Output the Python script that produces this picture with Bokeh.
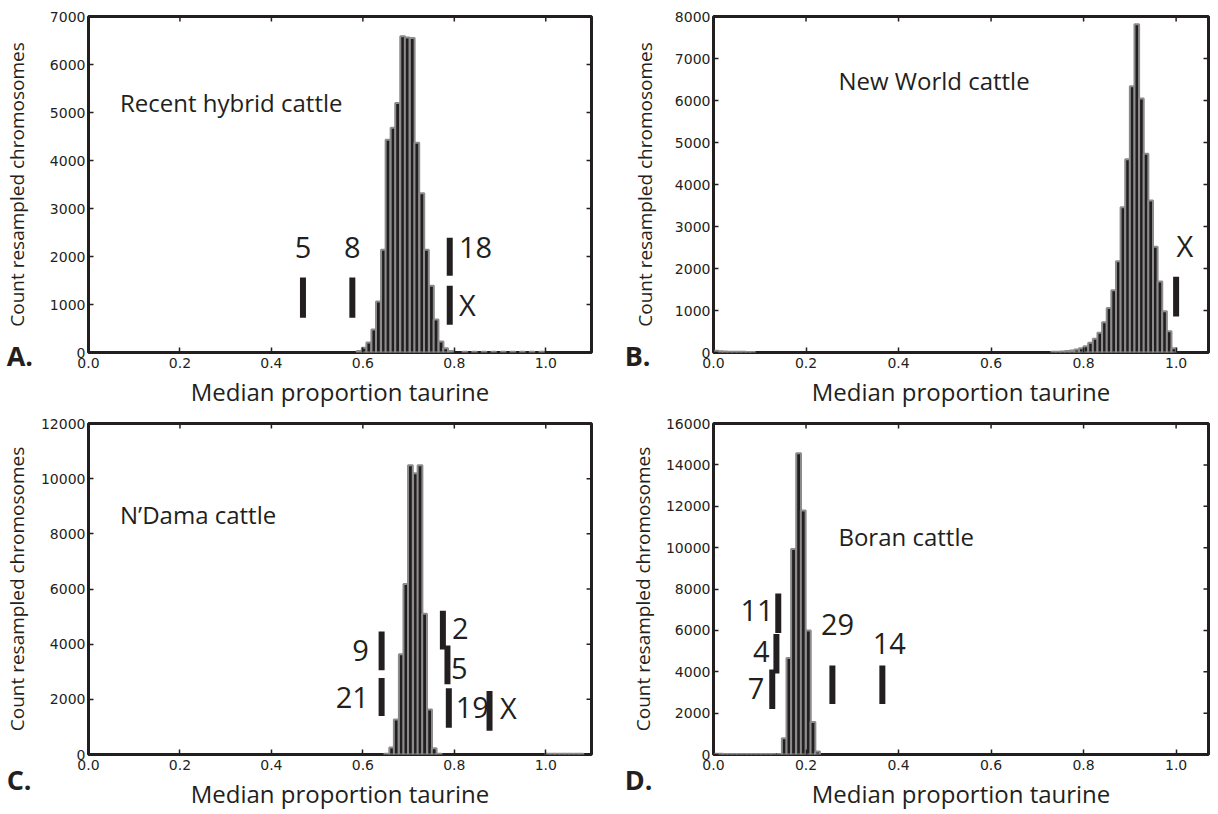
from bokeh.plotting import figure
from bokeh.layouts import column, row
from bokeh.models import Range1d, FixedTicker, PrintfTickFormatter, Label
from bokeh.embed import file_html
from bokeh.resources import INLINE
from bokeh.core.properties import value

INK = "#231f20"
FONT = "Open Sans"

# ---------------- data ----------------
x_ticks = [0.0, 0.2, 0.4, 0.6, 0.8, 1.0]

# A. Recent hybrid cattle
a_bins = [0.592, 0.603, 0.613, 0.624, 0.634, 0.645, 0.655, 0.666, 0.676, 0.687,
          0.697, 0.708, 0.718, 0.729, 0.739, 0.750, 0.760, 0.771, 0.781, 0.792,
          0.823, 0.844, 0.865, 0.886, 0.907, 0.928, 0.949, 0.970, 0.991]
a_counts = [30, 100, 210, 480, 1060, 2140, 4430, 4680, 5200, 6590,
            6560, 6550, 4370, 3320, 2140, 1390, 690, 230, 90, 30,
            15, 15, 15, 15, 15, 15, 15, 15, 15]
a_marks_x = [0.469, 0.577, 0.790, 0.790]
a_marks_lo = [725, 725, 1600, 580]
a_marks_hi = [1560, 1560, 2390, 1390]
a_labels = ["5", "8", "18", "X"]
a_label_x = [0.469, 0.577, 0.810, 0.810]
a_label_y = [2180, 2180, 2180, 1000]
a_label_align = ["center", "center", "left", "left"]

# B. New World cattle
b_bins = [0.005, 0.015, 0.025, 0.035, 0.045, 0.055, 0.065, 0.075, 0.085,
          0.735, 0.745, 0.755, 0.765, 0.775, 0.785, 0.795, 0.805, 0.815, 0.825,
          0.835, 0.845, 0.855, 0.865, 0.875, 0.885, 0.895, 0.905, 0.915, 0.925,
          0.935, 0.945, 0.955, 0.965, 0.975, 0.985, 0.995]
b_counts = [40, 30, 25, 20, 20, 15, 15, 10, 10,
            15, 20, 25, 35, 50, 70, 100, 150, 230, 330,
            470, 720, 1060, 1480, 2170, 3460, 4600, 6340, 7815, 6050,
            4730, 3620, 2520, 1690, 980, 505, 100]
b_marks_x = [1.0]
b_marks_lo = [855]
b_marks_hi = [1805]
b_labels = ["X"]
b_label_x = [1.019]
b_label_y = [2540]
b_label_align = ["center"]

# C. N'Dama cattle
c_bins = [0.652, 0.663, 0.673, 0.684, 0.694, 0.704, 0.715, 0.725, 0.735, 0.746,
          0.756, 0.767, 1.004, 1.015, 1.025, 1.036, 1.046, 1.056, 1.067, 1.077]
c_counts = [30, 250, 1270, 3630, 6180, 10490, 10200, 10490, 5100, 1630,
            230, 30, 25, 25, 25, 25, 25, 25, 25, 25]
c_marks_x = [0.641, 0.641, 0.775, 0.785, 0.788, 0.877]
c_marks_lo = [3050, 1400, 3810, 2550, 970, 860]
c_marks_hi = [4460, 2770, 5210, 3950, 2400, 2300]
c_labels = ["9", "21", "2", "5", "19", "X"]
c_label_x = [0.613, 0.613, 0.795, 0.793, 0.803, 0.900]
c_label_y = [3770, 2050, 4560, 3130, 1690, 1690]
c_label_align = ["right", "right", "left", "left", "left", "left"]

# D. Boran cattle
d_bins = [0.004, 0.015, 0.025, 0.035, 0.046, 0.056, 0.067, 0.077, 0.087, 0.098,
          0.108, 0.119, 0.129, 0.143, 0.153, 0.163, 0.173, 0.184, 0.194, 0.205,
          0.215, 0.225]
d_counts = [40, 35, 30, 30, 25, 25, 25, 20, 20, 20,
            20, 20, 20, 20, 780, 4660, 9930, 14560, 11800, 6000,
            1570, 140]
d_marks_x = [0.140, 0.136, 0.127, 0.257, 0.365]
d_marks_lo = [5870, 3920, 2200, 2440, 2440]
d_marks_hi = [7780, 5830, 4110, 4300, 4300]
d_labels = ["11", "4", "7", "29", "14"]
d_label_x = [0.130, 0.121, 0.110, 0.268, 0.380]
d_label_y = [6970, 4970, 3200, 6260, 5350]
d_label_align = ["right", "right", "right", "center", "center"]

titles = ["Recent hybrid cattle", "New World cattle", "N\u2019Dama cattle", "Boran cattle"]
title_x = [0.069, 0.270, 0.069, 0.270]
title_y = [5200, 6480, 8700, 10550]
letters = ["A.", "B.", "C.", "D."]
letter_x = [-0.179, -0.192, -0.179, -0.192]
letter_y = [-62, -71, -898, -1198]
y_max = [7000, 8000, 12000, 16000]
y_step = [1000, 1000, 2000, 2000]
x_max = [1.1, 1.07, 1.1, 1.07]
bin_width = [0.0104, 0.01, 0.0104, 0.0104]

FRAME_W = [509, 495, 509, 495]
OVERLAP = 36


def panel(i, bins, counts, mx, mlo, mhi, labs, lx, ly, lal,
          h, mbl, mbr, mbt, mbb, ystand, letter_side, shift):
    w = mbl + FRAME_W[i] + mbr
    kw = dict(width=w, height=h,
              x_range=Range1d(0, x_max[i]), y_range=Range1d(0, y_max[i]),
              output_backend="svg", toolbar_location=None,
              min_border_left=mbl, min_border_right=mbr,
              min_border_top=mbt, min_border_bottom=mbb,
              background_fill_color="white",
              border_fill_color=None if shift else "white")
    if shift:
        try:
            p = figure(margin=(0, 0, 0, -shift), **kw)
        except Exception:
            p = figure(styles={"margin-left": "-%dpx" % shift}, **kw)
    else:
        p = figure(**kw)
    p.xgrid.visible = False
    p.ygrid.visible = False
    p.outline_line_color = INK
    p.outline_line_width = 3

    yt = list(range(0, y_max[i] + 1, y_step[i]))
    p.xaxis.ticker = FixedTicker(ticks=x_ticks)
    p.xaxis.formatter = PrintfTickFormatter(format="%.1f")
    p.yaxis.ticker = FixedTicker(ticks=yt)
    for ax in p.axis:
        ax.axis_line_color = None
        ax.major_tick_in = 5
        ax.major_tick_out = 0
        ax.major_tick_line_color = INK
        ax.major_tick_line_width = 1.5
        ax.minor_tick_line_color = None
        ax.major_label_text_font = "DejaVu Sans"
        ax.major_label_text_font_size = "14px"
        ax.major_label_text_color = INK

    bx = p.xaxis[0]
    bx.axis_label = "Median proportion taurine"
    bx.axis_label_text_font = FONT
    bx.axis_label_text_font_size = "24px"
    bx.axis_label_text_font_style = "normal"
    bx.axis_label_text_color = INK
    bx.major_label_standoff = 5
    bx.axis_label_standoff = 4

    yx = p.yaxis[0]
    yx.axis_label = "Count resampled chromosomes"
    yx.axis_label_text_font = FONT
    yx.axis_label_text_font_size = "19px"
    yx.axis_label_text_font_style = "normal"
    yx.axis_label_text_color = INK
    yx.major_label_standoff = 3
    yx.axis_label_standoff = ystand

    # mirrored inward ticks on the top and right spines
    fh = h - mbt - mbb
    dy = 5.0 * y_max[i] / fh
    dx = 5.0 * x_max[i] / FRAME_W[i]
    p.segment(x0=x_ticks, y0=[y_max[i]] * len(x_ticks), x1=x_ticks,
              y1=[y_max[i] - dy] * len(x_ticks), line_color=INK, line_width=1.5)
    p.segment(x0=[x_max[i]] * len(yt), y0=yt, x1=[x_max[i] - dx] * len(yt),
              y1=yt, line_color=INK, line_width=1.5)

    p.vbar(x=bins, top=counts, bottom=0, width=bin_width[i],
           fill_color=INK, line_color="#8c8c8c", line_width=2)

    p.segment(x0=mx, y0=mlo, x1=mx, y1=mhi, line_width=6,
              line_color=INK, line_cap="butt")
    for al in ["left", "right", "center"]:
        idx = [k for k in range(len(labs)) if lal[k] == al]
        if idx:
            p.text(x=[lx[k] for k in idx], y=[ly[k] for k in idx],
                   text=[labs[k] for k in idx], text_align=al,
                   text_baseline="middle", text_font=value(FONT),
                   text_font_size="29px", text_color=INK)

    p.text(x=[title_x[i]], y=[title_y[i]], text=[titles[i]], text_align="left",
           text_baseline="middle", text_font=value(FONT),
           text_font_size="24px", text_color=INK)

    # panel letter: a side-panel annotation is not clipped to the frame
    p.add_layout(Label(x=letter_x[i], y=letter_y[i], text=letters[i],
                       text_font=FONT, text_font_style="bold",
                       text_font_size="27px", text_color=INK,
                       text_baseline="alphabetic"), letter_side)
    return p


pa = panel(0, a_bins, a_counts, a_marks_x, a_marks_lo, a_marks_hi, a_labels,
           a_label_x, a_label_y, a_label_align, 410, 82, 42, 16, 57, 17, "right", 0)
pb = panel(1, b_bins, b_counts, b_marks_x, b_marks_lo, b_marks_hi, b_labels,
           b_label_x, b_label_y, b_label_align, 410, 116, 2, 16, 57, 14, "left", OVERLAP)
pc = panel(2, c_bins, c_counts, c_marks_x, c_marks_lo, c_marks_hi, c_labels,
           c_label_x, c_label_y, c_label_align, 402, 82, 42, 13, 55, 8, "right", 0)
pd = panel(3, d_bins, d_counts, d_marks_x, d_marks_lo, d_marks_hi, d_labels,
           d_label_x, d_label_y, d_label_align, 402, 116, 2, 13, 55, 7, "left", OVERLAP)

layout = column(row(pa, pb), row(pc, pd))
open("out.html", "w").write(file_html(layout, INLINE))
